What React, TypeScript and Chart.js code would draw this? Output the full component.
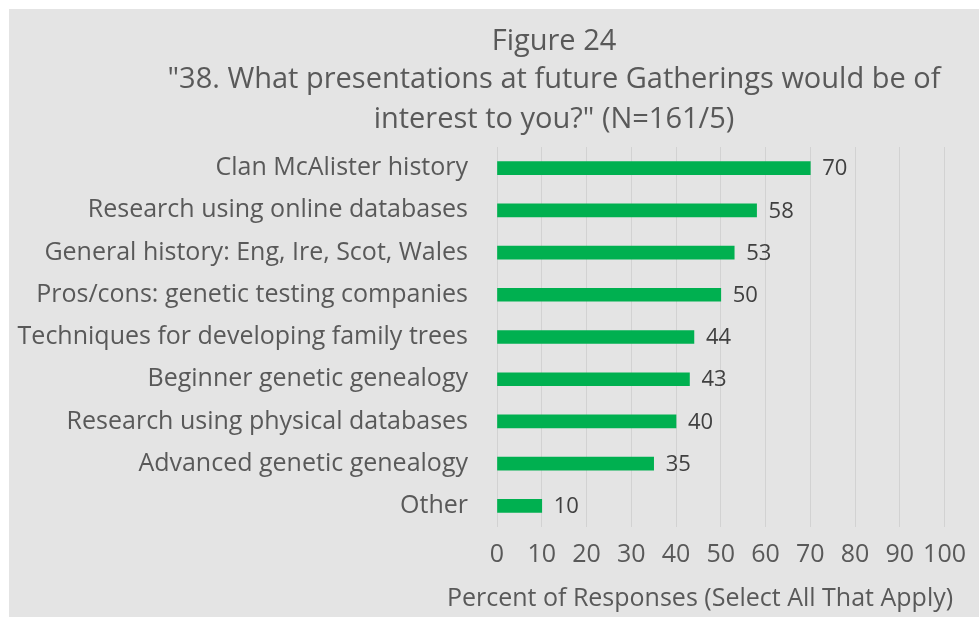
import React, { useEffect, useRef } from "react";
import { Chart, registerables } from "chart.js";

Chart.register(...registerables);

const titleLines = [
  "Figure 24",
  "\"38. What presentations at future Gatherings would be of",
  "interest to you?\" (N=161/5)",
];
const categories = [
  "Clan McAlister history",
  "Research using online databases",
  "General history: Eng, Ire, Scot, Wales",
  "Pros/cons: genetic testing companies",
  "Techniques for developing family trees",
  "Beginner genetic genealogy",
  "Research using physical databases",
  "Advanced genetic genealogy",
  "Other",
];
const values = [70, 58, 53, 50, 44, 43, 40, 35, 10];
const xTicks = [0, 10, 20, 30, 40, 50, 60, 70, 80, 90, 100];
const xAxisTitle = "Percent of Responses (Select All That Apply)";

const FONT = "'Open Sans', 'Noto Sans', sans-serif";
const W = 970;
const H = 608;

const titlePlugin = {
  id: "customTitle",
  afterDraw(chart: any) {
    const ctx = chart.ctx;
    ctx.save();
    ctx.fillStyle = "#595959";
    ctx.textAlign = "center";
    ctx.textBaseline = "middle";
    ctx.font = `29px ${FONT}`;
    const ys = [33, 71, 111];
    titleLines.forEach((t, i) => ctx.fillText(t, 545, ys[i]));
    ctx.font = `25px ${FONT}`;
    ctx.fillText(xAxisTitle, 691, 590);
    ctx.restore();
  },
};

const labelPlugin = {
  id: "barLabels",
  afterDatasetsDraw(chart: any) {
    const ctx = chart.ctx;
    const meta = chart.getDatasetMeta(0);
    ctx.save();
    ctx.fillStyle = "#404040";
    ctx.textAlign = "left";
    ctx.textBaseline = "middle";
    ctx.font = `22px ${FONT}`;
    meta.data.forEach((bar: any, i: number) => {
      ctx.fillText(String(values[i]), bar.x + 12, bar.y + 1);
    });
    ctx.restore();
  },
};

export default function App() {
  const ref = useRef<HTMLCanvasElement>(null);
  useEffect(() => {
    if (!ref.current) return;
    const chart = new Chart(ref.current, {
      type: "bar",
      data: {
        labels: categories,
        datasets: [
          {
            data: values,
            backgroundColor: "#00b050",
            borderWidth: 0,
            barThickness: 13,
          },
        ],
      },
      options: {
        indexAxis: "y",
        responsive: false,
        animation: false,
        layout: { padding: { top: 138, right: 29, left: 0, bottom: 0 } },
        plugins: {
          legend: { display: false },
          title: { display: false },
          tooltip: { enabled: false },
        },
        scales: {
          x: {
            min: 0,
            max: 100,
            afterFit: (s: any) => {
              s.height = 90;
            },
            afterBuildTicks: (s: any) => {
              s.ticks = xTicks.map((v) => ({ value: v }));
            },
            grid: { color: "#d2d2d2", drawTicks: false, lineWidth: 1 },
            border: { display: false },
            ticks: {
              color: "#595959",
              font: { family: FONT, size: 25 },
              padding: 13,
              maxRotation: 0,
              autoSkip: false,
            },
          },
          y: {
            afterFit: (s: any) => {
              s.width = 488;
            },
            grid: { display: false, drawTicks: false },
            border: { display: false },
            ticks: {
              color: "#595959",
              font: { family: FONT, size: 25 },
              padding: 29,
              autoSkip: false,
            },
          },
        },
      },
      plugins: [titlePlugin, labelPlugin],
    });
    return () => chart.destroy();
  }, []);
  return (
    <div
      style={{
        position: "fixed",
        left: 9,
        top: 9,
        right: 0,
        bottom: 0,
        background: "#e4e4e4",
      }}
    >
      <canvas ref={ref} width={W} height={H} style={{ width: W, height: H, display: "block" }} />
    </div>
  );
}
